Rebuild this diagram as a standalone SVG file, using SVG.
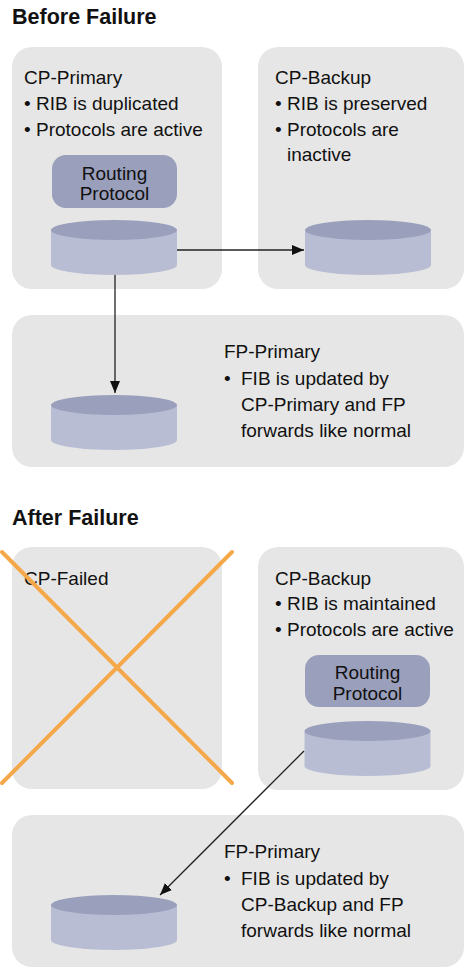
<svg xmlns="http://www.w3.org/2000/svg" width="465" height="968" viewBox="0 0 465 968">
<defs>
<style>
.box{fill:#e6e6e6}
.rp{fill:#9a9fbc}
.side{fill:#b9bdd4}
.top{fill:#9a9fbc}
text{font-family:"Liberation Sans",Arial,sans-serif;fill:#111}
.t{font-size:19px}
.h{font-size:21.5px;font-weight:bold}
.c{text-anchor:middle}
.ln{stroke:#222;stroke-width:1.3;fill:none}
.x{stroke:#f5a84a;stroke-width:4;stroke-linecap:round}
</style>
<marker id="ah" viewBox="0 0 12 10" refX="12" refY="5" markerWidth="12" markerHeight="10" markerUnits="userSpaceOnUse" orient="auto">
<path d="M0,0 L12,5 L0,10 Z" fill="#111"/>
</marker>
<g id="cyl">
<path class="side" d="M-63,10 L-63,45 A63 10 0 0 0 63,45 L63,10 Z"/>
<ellipse class="top" cx="0" cy="10" rx="63" ry="10"/>
</g>
</defs>

<text class="h" x="12" y="24">Before Failure</text>

<g id="cp-primary">
<rect class="box" x="12" y="47" width="210" height="242" rx="20"/>
<text class="t" x="24" y="84">CP-Primary</text>
<text class="t" x="24" y="110">•</text><text class="t" x="36" y="110">RIB is duplicated</text>
<text class="t" x="24" y="136">•</text><text class="t" x="36" y="136">Protocols are active</text>
<rect class="rp" x="52" y="155" width="125" height="53" rx="14"/>
<text class="t c" x="114.5" y="180">Routing</text>
<text class="t c" x="114.5" y="200">Protocol</text>
<use href="#cyl" x="114" y="220"/>
</g>

<g id="cp-backup-before">
<rect class="box" x="258" y="47" width="206" height="242" rx="20"/>
<text class="t" x="275" y="84">CP-Backup</text>
<text class="t" x="275" y="110">•</text><text class="t" x="287" y="110">RIB is preserved</text>
<text class="t" x="275" y="136">•</text><text class="t" x="287" y="136">Protocols are</text>
<text class="t" x="287" y="161">inactive</text>
<use href="#cyl" x="368" y="220"/>
</g>

<g id="fp-primary-before">
<rect class="box" x="12" y="315" width="452" height="152" rx="20"/>
<text class="t" x="224" y="358">FP-Primary</text>
<text class="t" x="224" y="385">•</text><text class="t" x="241" y="385">FIB is updated by</text>
<text class="t" x="241" y="411">CP-Primary and FP</text>
<text class="t" x="241" y="437">forwards like normal</text>
<use href="#cyl" x="114" y="395"/>
</g>

<text class="h" x="12" y="525">After Failure</text>

<g id="cp-failed">
<rect class="box" x="12" y="547" width="210" height="242" rx="20"/>
<text class="t" x="24" y="585">CP-Failed</text>
<line class="x" x1="2" y1="552" x2="232" y2="783"/>
<line class="x" x1="232" y1="552" x2="2" y2="783"/>
</g>

<g id="cp-backup-after">
<rect class="box" x="258" y="547" width="206" height="243" rx="20"/>
<text class="t" x="275" y="585">CP-Backup</text>
<text class="t" x="275" y="610">•</text><text class="t" x="287" y="610">RIB is maintained</text>
<text class="t" x="275" y="636">•</text><text class="t" x="287" y="636">Protocols are active</text>
<rect class="rp" x="305" y="655" width="125" height="52" rx="14"/>
<text class="t c" x="367.5" y="679">Routing</text>
<text class="t c" x="367.5" y="700">Protocol</text>
<use href="#cyl" x="367.5" y="721"/>
</g>

<g id="fp-primary-after">
<rect class="box" x="12" y="815" width="452" height="152" rx="20"/>
<text class="t" x="224" y="858">FP-Primary</text>
<text class="t" x="224" y="885">•</text><text class="t" x="241" y="885">FIB is updated by</text>
<text class="t" x="241" y="911">CP-Backup and FP</text>
<text class="t" x="241" y="937">forwards like normal</text>
<use href="#cyl" x="114" y="895"/>
</g>

<g id="connectors">
<line class="ln" x1="177" y1="250" x2="304" y2="250" marker-end="url(#ah)"/>
<line class="ln" x1="115" y1="275" x2="115" y2="393" marker-end="url(#ah)"/>
<line class="ln" x1="304" y1="751" x2="160" y2="895" marker-end="url(#ah)"/>
</g>
</svg>
